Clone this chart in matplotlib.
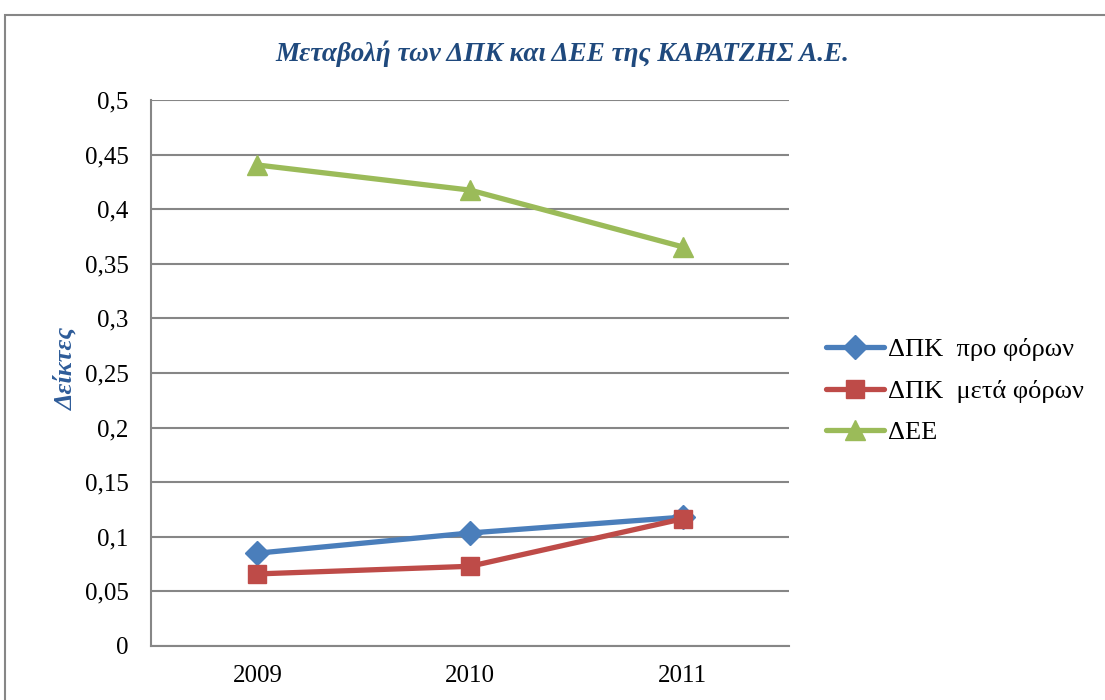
import matplotlib
matplotlib.use("Agg")
import matplotlib.pyplot as plt
from matplotlib.patches import Rectangle
from matplotlib.ticker import FuncFormatter

years = ["2009", "2010", "2011"]
dpk_pro = [0.085, 0.1035, 0.118]
dpk_meta = [0.066, 0.073, 0.1165]
dee = [0.4405, 0.4175, 0.3655]
series_labels = ["ΔΠΚ  προ φόρων", "ΔΠΚ  μετά φόρων", "ΔΕΕ"]
title = "Μεταβολή των ΔΠΚ και ΔΕΕ της ΚΑΡΑΤΖΗΣ Α.Ε."
ylabel = "Δείκτες"
yticks = [0, 0.05, 0.1, 0.15, 0.2, 0.25, 0.3, 0.35, 0.4, 0.45, 0.5]

plt.rcParams['font.family'] = ['Liberation Serif', 'DejaVu Serif']

W, H = 1105, 700
fig = plt.figure(figsize=(W / 100, H / 100), dpi=100)
fig.patch.set_facecolor("white")

# outer chart border
fig.add_artist(Rectangle((5 / W, -0.01), 1.05, 1 - 15 / H + 0.01, transform=fig.transFigure,
                         fill=False, edgecolor="#868686", linewidth=1.5))

ax = fig.add_axes([151 / W, (H - 646) / H, 638 / W, 546 / H])
x = list(range(len(years)))

ax.plot(x, dpk_pro, color="#4A7EBB", linewidth=3.8, marker="D", markersize=12,
        label=series_labels[0], solid_capstyle="round")
ax.plot(x, dpk_meta, color="#BE4B48", linewidth=3.8, marker="s", markersize=13,
        label=series_labels[1], solid_capstyle="round")
ax.plot(x, dee, color="#9BBB59", linewidth=3.8, marker="^", markersize=14,
        label=series_labels[2], solid_capstyle="round")

ax.set_xlim(-0.5, len(years) - 0.5)
ax.set_ylim(0, 0.5)
ax.set_yticks(yticks)
ax.yaxis.set_major_formatter(FuncFormatter(lambda v, p: ("%g" % round(v, 3)).replace(".", ",")))
ax.set_xticks(x)
ax.set_xticklabels(years)
ax.tick_params(axis="both", length=0, labelsize=18, colors="black")
ax.tick_params(axis="y", pad=16)
ax.tick_params(axis="x", pad=14)
ax.grid(axis="y", color="#868686", linewidth=1.5)
ax.set_axisbelow(True)
for s in ["top", "right"]:
    ax.spines[s].set_visible(False)
for s in ["left", "bottom"]:
    ax.spines[s].set_color("#868686")
    ax.spines[s].set_linewidth(1.5)

fig.text((275 + 850) / 2 / W, 1 - 54 / H, title, ha="center", va="center",
         fontsize=19.5, fontstyle="italic", fontweight="bold", color="#1F497D")
fig.text(66 / W, 1 - 368 / H, ylabel, ha="center", va="center", rotation=90,
         fontsize=19, fontstyle="italic", fontweight="bold", color="#2E5C99")

leg = fig.legend(loc="upper left", bbox_to_anchor=(826 / W, 1 - 338 / H), frameon=False,
                 fontsize=19, handlelength=2.2, handletextpad=0.15, labelspacing=0.68,
                 borderaxespad=0, borderpad=0)

fig.savefig("out.png", dpi=100, facecolor="white")
